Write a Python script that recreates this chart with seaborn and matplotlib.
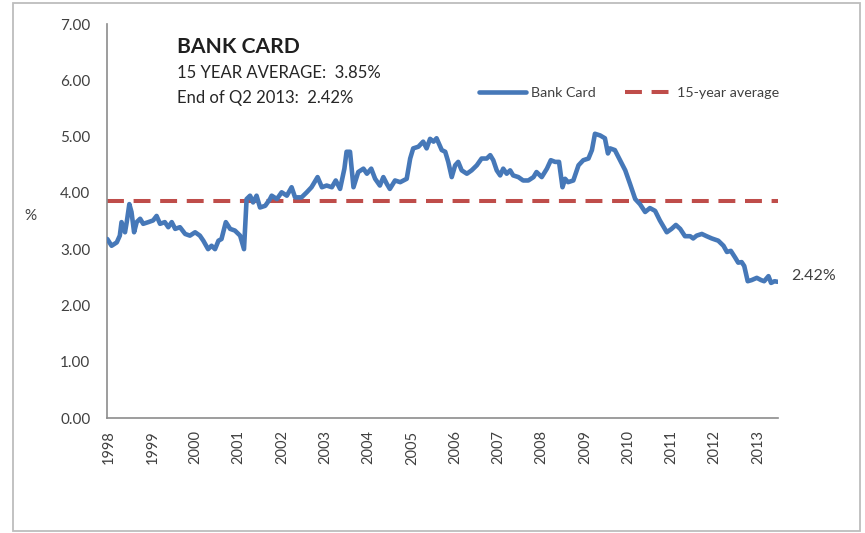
import matplotlib
matplotlib.use("Agg")
import matplotlib.pyplot as plt
from matplotlib.patches import Rectangle
from matplotlib.ticker import FormatStrFormatter
import seaborn as sns
import pandas as pd

# Bank card delinquency rate (%), by decimal year
years = [
    1997.96, 1998.06, 1998.18, 1998.25, 1998.29, 1998.37, 1998.41, 1998.47, 1998.52, 1998.58,
    1998.64, 1998.72, 1998.79, 1998.91, 1999.02, 1999.10, 1999.18, 1999.29, 1999.37, 1999.45,
    1999.53, 1999.64, 1999.76, 1999.87, 1999.99, 2000.10, 2000.18, 2000.29, 2000.37, 2000.45,
    2000.53, 2000.60, 2000.70, 2000.80, 2000.91, 2001.03, 2001.12, 2001.18, 2001.26, 2001.33,
    2001.41, 2001.49, 2001.61, 2001.72, 2001.76, 2001.88, 2001.99, 2002.11, 2002.22, 2002.30,
    2002.45, 2002.57, 2002.68, 2002.82, 2002.92, 2003.03, 2003.15, 2003.24, 2003.34, 2003.44,
    2003.49, 2003.57, 2003.65, 2003.76, 2003.88, 2003.96, 2004.06, 2004.15, 2004.26, 2004.34,
    2004.42, 2004.49, 2004.61, 2004.73, 2004.88, 2004.96, 2005.03, 2005.15, 2005.26, 2005.34,
    2005.42, 2005.50, 2005.57, 2005.69, 2005.77, 2005.84, 2005.92, 2006.00, 2006.07, 2006.15,
    2006.27, 2006.38, 2006.50, 2006.61, 2006.73, 2006.81, 2006.88, 2006.96, 2007.04, 2007.11,
    2007.19, 2007.27, 2007.34, 2007.46, 2007.57, 2007.69, 2007.81, 2007.88, 2008.00, 2008.12,
    2008.21, 2008.31, 2008.40, 2008.48, 2008.54, 2008.61, 2008.73, 2008.85, 2008.96, 2009.08,
    2009.16, 2009.23, 2009.35, 2009.46, 2009.53, 2009.58, 2009.69, 2009.81, 2009.93, 2010.04,
    2010.16, 2010.27, 2010.39, 2010.50, 2010.62, 2010.73, 2010.89, 2011.00, 2011.10, 2011.20,
    2011.31, 2011.43, 2011.50, 2011.58, 2011.70, 2011.81, 2011.93, 2012.08, 2012.20, 2012.28,
    2012.37, 2012.47, 2012.54, 2012.62, 2012.68, 2012.76, 2012.85, 2012.97, 2013.07, 2013.14,
    2013.24, 2013.30, 2013.38, 2013.45,
]
rates = [
    3.18, 3.06, 3.12, 3.24, 3.48, 3.30, 3.48, 3.80, 3.66, 3.30,
    3.48, 3.54, 3.45, 3.48, 3.51, 3.59, 3.45, 3.48, 3.39, 3.48,
    3.36, 3.39, 3.27, 3.24, 3.30, 3.24, 3.15, 3.00, 3.06, 3.00,
    3.15, 3.18, 3.48, 3.36, 3.33, 3.24, 3.00, 3.89, 3.95, 3.83,
    3.95, 3.74, 3.77, 3.89, 3.95, 3.89, 4.01, 3.95, 4.10, 3.92,
    3.92, 4.01, 4.10, 4.28, 4.10, 4.13, 4.10, 4.22, 4.07, 4.43,
    4.73, 4.73, 4.10, 4.37, 4.43, 4.34, 4.43, 4.25, 4.13, 4.28,
    4.16, 4.07, 4.22, 4.19, 4.25, 4.61, 4.79, 4.82, 4.91, 4.79,
    4.96, 4.91, 4.97, 4.76, 4.73, 4.55, 4.28, 4.49, 4.55, 4.40,
    4.34, 4.40, 4.49, 4.61, 4.61, 4.67, 4.58, 4.40, 4.31, 4.43,
    4.34, 4.40, 4.31, 4.28, 4.22, 4.22, 4.28, 4.37, 4.28, 4.43,
    4.58, 4.55, 4.55, 4.10, 4.25, 4.19, 4.22, 4.49, 4.58, 4.61,
    4.76, 5.05, 5.02, 4.97, 4.70, 4.79, 4.76, 4.58, 4.40, 4.16,
    3.89, 3.80, 3.66, 3.73, 3.68, 3.51, 3.30, 3.36, 3.43, 3.36,
    3.23, 3.23, 3.19, 3.24, 3.27, 3.23, 3.19, 3.15, 3.06, 2.95,
    2.97, 2.85, 2.76, 2.77, 2.70, 2.43, 2.45, 2.49, 2.45, 2.43,
    2.52, 2.40, 2.43, 2.42,
]
average_rate = 3.85
year_ticks = list(range(1998, 2014))
rate_ticks = [0, 1, 2, 3, 4, 5, 6, 7]

series_name = "Bank Card"
average_name = "15-year average"
title = "BANK CARD"
subtitle_1 = f"15 YEAR AVERAGE:  {average_rate:.2f}%"
subtitle_2 = f"End of Q2 2013:  {rates[-1]:.2f}%"

BLUE = "#4678B8"
RED = "#BF4D4A"
TEXT = "#404040"

sns.set_theme(style="white")
plt.rcParams["font.family"] = ["Lato", "DejaVu Sans"]

W, H = 865, 533
fig = plt.figure(figsize=(W / 100, H / 100), dpi=100)
fig.patch.set_facecolor("white")

# axes box in pixel terms: left 107, right 778, top 24, bottom 418
ax = fig.add_axes([107 / W, 1 - 418 / H, (778 - 107) / W, (418 - 24) / H])

df = pd.DataFrame({"year": years, "rate": rates})
avg_df = pd.DataFrame({"year": [years[0], years[-1]], "rate": [average_rate, average_rate]})

sns.lineplot(data=avg_df, x="year", y="rate", ax=ax, color=RED, linewidth=2.9,
             linestyle=(0, (4.2, 2.4)), label=average_name, zorder=2)
sns.lineplot(data=df, x="year", y="rate", ax=ax, color=BLUE, linewidth=3.3,
             label=series_name, zorder=3, solid_joinstyle="round")

ax.set_xlim(1997.954, 2013.46)
ax.set_ylim(0, 7)
ax.set_xticks(year_ticks)
ax.set_xticklabels([str(y) for y in year_ticks], rotation=90)
ax.set_yticks(rate_ticks)
ax.yaxis.set_major_formatter(FormatStrFormatter("%.2f"))
ax.tick_params(axis="both", length=0, labelcolor=TEXT)
ax.tick_params(axis="y", pad=12, labelsize=11)
ax.tick_params(axis="x", pad=9, labelsize=10.5)
ax.grid(False)

for side in ("top", "right"):
    ax.spines[side].set_visible(False)
for side in ("left", "bottom"):
    ax.spines[side].set_color("#8C8C8C")
    ax.spines[side].set_linewidth(1.2)

ax.set_xlabel("")
ax.set_ylabel("%", rotation=0, fontsize=11, color=TEXT)
ax.yaxis.set_label_coords((30 - 107) / 671, (418 - 223) / 394)

# legend: series first, then average
handles, labels = ax.get_legend_handles_labels()
order = [labels.index(series_name), labels.index(average_name)]
ax.legend([handles[i] for i in order], [labels[i] for i in order],
          ncol=2, frameon=False, loc="center",
          bbox_to_anchor=((629 - 107) / 671, (418 - 93) / 394),
          fontsize=10.3, handlelength=3.3, columnspacing=2.0, handletextpad=0.35,
          labelcolor=TEXT)

# end-of-series value label
ax.annotate(f"{rates[-1]:.2f}%", xy=(years[-1], rates[-1]), xytext=(14, 6),
            textcoords="offset pixels", ha="left", va="center",
            fontsize=11.5, color=TEXT)

# heading block
fig.text(177 / W, 1 - 47 / H, title, fontsize=15.2, fontweight="bold",
         color="#1F1F1F", ha="left", va="center")
fig.text(177 / W, 1 - 73 / H, subtitle_1, fontsize=12, color="#262626",
         ha="left", va="center")
fig.text(177 / W, 1 - 98 / H, subtitle_2, fontsize=12, color="#262626",
         ha="left", va="center")

# outer chart border
fig.add_artist(Rectangle((13 / W, 1 - 531 / H), (860 - 13) / W, (531 - 3) / H,
                         transform=fig.transFigure, fill=False,
                         edgecolor="#BDBDBD", linewidth=1.3))

fig.savefig("out.png", dpi=100, facecolor="white")
